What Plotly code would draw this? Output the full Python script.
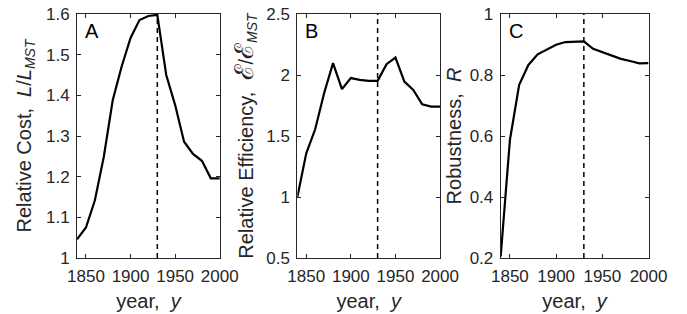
import plotly.graph_objects as go

years = [1840, 1850, 1860, 1870, 1880, 1890, 1900, 1910, 1920, 1930,
         1940, 1950, 1960, 1970, 1980, 1990, 2000]
relative_cost = [1.046, 1.075, 1.142, 1.249, 1.388, 1.471, 1.541, 1.585, 1.595, 1.598,
                 1.450, 1.376, 1.286, 1.256, 1.239, 1.196, 1.196]
relative_efficiency = [1.00, 1.358, 1.555, 1.851, 2.097, 1.884, 1.975, 1.960, 1.952, 1.952,
                       2.089, 2.143, 1.946, 1.878, 1.760, 1.741, 1.741]
robustness = [0.205, 0.587, 0.768, 0.833, 0.868, 0.883, 0.899, 0.908, 0.910, 0.910,
              0.886, 0.875, 0.863, 0.853, 0.846, 0.838, 0.839]
marker_year = 1930
x_ticks = [1850, 1900, 1950, 2000]

E = "<span style='font-family:DejaVu Serif; font-size:26px'>ℰ</span>"
panels = [
    dict(y=relative_cost, label="A", yrange=[1, 1.6], dtick=0.1,
         ytitle="Relative Cost,  <i>L</i>/<i>L</i><sub><i>MST</i></sub>",
         dom=[70/687, 219/687], standoff=9),
    dict(y=relative_efficiency, label="B", yrange=[0.5, 2.5], dtick=0.5,
         ytitle=f"Relative Efficiency,  {E}/{E}<sub><i>MST</i></sub>",
         dom=[300/687, 449/687], standoff=7),
    dict(y=robustness, label="C", yrange=[0.2, 1.0], dtick=0.2,
         ytitle="Robustness,  <i>R</i>",
         dom=[512.3/687, 666.7/687], standoff=2),
]

fig = go.Figure()
axcol = "#262626"
font = "Liberation Sans, Arial, Helvetica, sans-serif"
tfs = 17
lfs = 20

for i, p in enumerate(panels, start=1):
    xa = "x" if i == 1 else f"x{i}"
    ya = "y" if i == 1 else f"y{i}"
    fig.add_trace(go.Scatter(x=years, y=p["y"], mode="lines",
                             line=dict(color="black", width=2.2),
                             xaxis=xa, yaxis=ya, showlegend=False))
    fig.add_trace(go.Scatter(x=[marker_year, marker_year], y=p["yrange"], mode="lines",
                             line=dict(color="black", width=1.5, dash="5px,4px"),
                             xaxis=xa, yaxis=ya, showlegend=False))
    axkw = dict(showline=True, linecolor=axcol, linewidth=1, mirror="ticks",
                ticks="inside", ticklen=4, tickcolor=axcol, showgrid=False, zeroline=False,
                tickfont=dict(size=tfs, color=axcol, family=font))
    fig.layout[f"xaxis{'' if i == 1 else i}"] = dict(
        domain=p["dom"], range=[1840, 2000], tickvals=x_ticks, ticklabelstandoff=3,
        anchor=ya, title=dict(text="year,  <i>y</i>", font=dict(size=lfs, color=axcol, family=font),
                              standoff=8), **axkw)
    fig.layout[f"yaxis{'' if i == 1 else i}"] = dict(
        domain=[0, 1], range=p["yrange"], dtick=p["dtick"], anchor=xa, ticklabelstandoff=3,
        title=dict(text=p["ytitle"], font=dict(size=lfs, color=axcol, family=font),
                   standoff=p["standoff"]),
        **axkw)
    fig.add_annotation(text=p["label"], xref=f"{xa} domain", yref=f"{ya} domain",
                       x=0.04, y=0.985, xanchor="left", yanchor="top", showarrow=False,
                       font=dict(size=20, color="black", family=font))

fig.update_layout(width=687, height=314, margin=dict(l=0, r=0, t=14, b=56),
                  paper_bgcolor="white", plot_bgcolor="white",
                  font=dict(family=font, color=axcol))
fig.write_html("out.html", config={"displayModeBar": False},
               post_script="document.body.style.margin='0';")
